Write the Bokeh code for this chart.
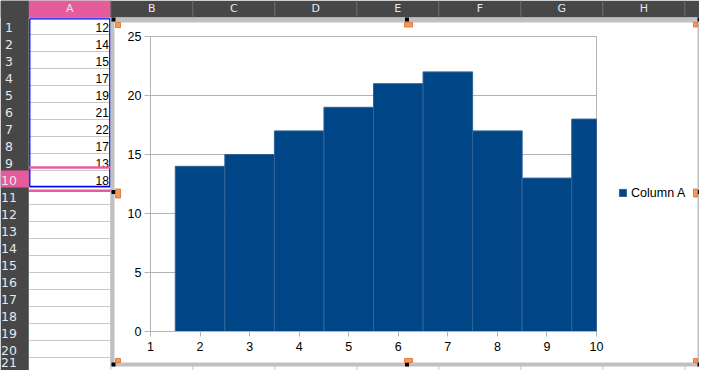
import numpy as np
from bokeh.plotting import figure
from bokeh.models import Range1d, LinearAxis, FixedTicker, Legend, LegendItem
from bokeh.core.properties import value
from bokeh.embed import file_html
from bokeh.resources import INLINE

# ---------------- data ----------------
cell_values = [12, 14, 15, 17, 19, 21, 22, 17, 13, 18]      # spreadsheet A1:A10
series_name = "Column A"
bar_x = [2, 3, 4, 5, 6, 7, 8, 9, 10]                          # chart categories shown
bar_values = [14, 15, 17, 19, 21, 22, 17, 13, 18]
x_ticks = [1, 2, 3, 4, 5, 6, 7, 8, 9, 10]
y_ticks = [0, 5, 10, 15, 20, 25]
col_letters = ["A", "B", "C", "D", "E", "F", "G", "H"]
row_numbers = list(range(1, 22))
selected_row = 10

# ---------------- layout (screen pixels of the sheet) ----------------
VIEW_L, VIEW_R, VIEW_T, VIEW_B = 0, 699, 0, 370
HEADER_B = 17
ROW_H = 17
ROWHDR_R = 28.3
COL_W = 82
CH_L, CH_R, CH_T, CH_B = 110, 701, 17, 366      # chart object outer border
BW = 4                                           # border width
PA_L, PA_R, PA_T, PA_B = 150, 596, 36, 331      # chart plot area

W, H = VIEW_R - VIEW_L, VIEW_B - VIEW_T

x_lo, x_hi = x_ticks[0], x_ticks[-1]
y_lo, y_hi = y_ticks[0], y_ticks[-1]
sx = (PA_R - PA_L) / (x_hi - x_lo)
sy = (PA_B - PA_T) / (y_hi - y_lo)

p = figure(width=W, height=H, output_backend="svg", toolbar_location=None,
           x_axis_type=None, y_axis_type=None,
           x_range=Range1d(VIEW_L, VIEW_R), y_range=Range1d(VIEW_B, VIEW_T),
           min_border=0, min_border_left=0, min_border_right=0,
           min_border_top=0, min_border_bottom=0)
p.outline_line_color = None
p.background_fill_color = "white"
p.border_fill_color = "white"
p.extra_x_ranges = {"cx": Range1d(x_lo - (PA_L - VIEW_L) / sx, x_hi + (VIEW_R - PA_R) / sx)}
p.extra_y_ranges = {"cy": Range1d(y_lo - (VIEW_B - PA_B) / sy, y_hi + (PA_T - VIEW_T) / sy)}

GRID_C = "#c8c8c8"
HDR_C = "#474747"
HDR_TXT = "#e4e8ec"
PINK = "#e45c9c"

# ---- cell grid ----
n_rows = len(row_numbers)
row_tops = [HEADER_B + ROW_H * i for i in range(n_rows)]
row_mids = [t + ROW_H / 2 for t in row_tops]
row_bots = [t + ROW_H for t in row_tops]
n_cols = len(col_letters) + 1
col_lefts = [ROWHDR_R + COL_W * i for i in range(n_cols)]
col_rights = [c + COL_W for c in col_lefts]
col_mids = [c + COL_W / 2 for c in col_lefts[:len(col_letters)]]

p.segment(x0=[ROWHDR_R] * n_rows, x1=[VIEW_R] * n_rows, y0=row_bots, y1=row_bots,
          line_color=GRID_C, line_width=1)
p.segment(x0=col_rights, x1=col_rights, y0=[HEADER_B] * len(col_rights), y1=[VIEW_B] * len(col_rights),
          line_color=GRID_C, line_width=1)

# cell values in column A
p.text(x=[col_rights[0] - 2] * len(cell_values), y=[m + 1.3 for m in row_mids[:len(cell_values)]],
       text=[str(v) for v in cell_values], text_align="right", text_baseline="middle",
       text_font=value("Liberation Sans"), text_font_size="12px", text_color="black")

# selection border around A1:A10
p.quad(left=[col_lefts[0] + 1], right=[col_rights[0] - 1], top=[HEADER_B + 1.3],
       bottom=[row_bots[len(cell_values) - 1] - 1], fill_color=None, line_color="#0000ee", line_width=1.3)
# pink cursor lines around row 10
si = selected_row - 1
p.segment(x0=[col_lefts[0]] * 2, x1=[col_rights[0]] * 2,
          y0=[row_tops[si] - 3, row_bots[si] + 3.3], y1=[row_tops[si] - 3, row_bots[si] + 3.3],
          line_color=PINK, line_width=2.6)

# row header
p.quad(left=[VIEW_L], right=[ROWHDR_R], top=[VIEW_T], bottom=[VIEW_B], fill_color=HDR_C, line_color=None)
p.quad(left=[VIEW_L], right=[ROWHDR_R], top=[row_tops[si]], bottom=[row_bots[si]], fill_color=PINK, line_color=None)
p.text(x=[8.5] * n_rows, y=[min(m + 1.5, VIEW_B - 8) for m in row_mids], text=[str(r) for r in row_numbers],
       text_align="center", text_baseline="middle",
       text_font=value("DejaVu Sans"), text_font_size="12.5px", text_color=HDR_TXT)

# column header
p.quad(left=[VIEW_L], right=[VIEW_R], top=[VIEW_T], bottom=[HEADER_B], fill_color=HDR_C, line_color=None)
p.quad(left=[col_lefts[0]], right=[col_rights[0]], top=[VIEW_T], bottom=[HEADER_B], fill_color=PINK, line_color=None)
p.segment(x0=col_rights, x1=col_rights, y0=[VIEW_T] * len(col_rights), y1=[HEADER_B] * len(col_rights),
          line_color="#6e6e6e", line_width=1)
p.text(x=col_mids, y=[7.8] * len(col_mids), text=col_letters, text_align="center", text_baseline="middle",
       text_font=value("DejaVu Sans"), text_font_size="11px", text_color=HDR_TXT)

# chart object frame
p.quad(left=[CH_L], right=[CH_R], top=[CH_T], bottom=[CH_B], fill_color="#c0c0c0", line_color=None)
p.quad(left=[CH_L + BW], right=[CH_R - BW], top=[CH_T + 5], bottom=[CH_B - BW], fill_color="white", line_color=None)

# ---- chart ----
WALL_C = "#b3b3b3"
p.segment(x0=[x_lo] * (len(y_ticks) - 2), x1=[x_hi] * (len(y_ticks) - 2), y0=y_ticks[1:-1], y1=y_ticks[1:-1],
          line_color=WALL_C, line_width=1, x_range_name="cx", y_range_name="cy")
p.quad(left=[x_lo], right=[x_hi], bottom=[y_lo], top=[y_hi], fill_color=None, line_color=WALL_C,
       line_width=1, x_range_name="cx", y_range_name="cy")

bx = np.array(bar_x, dtype=float)
b_left = np.clip(bx - 0.5, x_lo, x_hi)
b_right = np.clip(bx + 0.5, x_lo, x_hi)
bars = p.quad(left=b_left, right=b_right, bottom=[y_lo] * len(bar_values), top=bar_values,
              fill_color="#004586", line_color="#2f6399", line_width=1,
              x_range_name="cx", y_range_name="cy")

yaxis = LinearAxis(x_range_name="cx", y_range_name="cy", fixed_location=x_lo, bounds=(y_lo, y_hi),
                   ticker=FixedTicker(ticks=y_ticks))
xaxis = LinearAxis(x_range_name="cx", y_range_name="cy", fixed_location=y_lo, bounds=(x_lo, x_hi),
                   ticker=FixedTicker(ticks=x_ticks))
for ax, tick_out, standoff in ((yaxis, 6, 3), (xaxis, 5, 5)):
    ax.axis_line_color = WALL_C
    ax.major_tick_line_color = WALL_C
    ax.minor_tick_line_color = None
    ax.major_tick_in = 0
    ax.major_tick_out = tick_out
    ax.major_label_standoff = standoff
    ax.major_label_text_font = "Liberation Sans"
    ax.major_label_text_font_size = "12.5px"
    ax.major_label_text_color = "black"
p.add_layout(yaxis, "left")
p.add_layout(xaxis, "below")

legend = Legend(items=[LegendItem(label=series_name, renderers=[bars])],
                location=(618.1 - VIEW_L, VIEW_B - 192 - 7.5),
                glyph_width=9, glyph_height=9, label_standoff=4, label_height=9,
                padding=0, margin=0, spacing=0, border_line_color=None,
                background_fill_alpha=0, label_text_font="Liberation Sans",
                label_text_font_size="12.5px", label_text_color="black")
p.add_layout(legend)

# selection handles of the chart object
HB = 4
hx_black = [CH_L + 1, (CH_L + CH_R) / 2 - 1, CH_R - HB, CH_L + 1, CH_R - HB, CH_L + 1, (CH_L + CH_R) / 2 - 1, CH_R - HB]
hy_black = [CH_T, CH_T, CH_T, (CH_T + CH_B) / 2 - 2, (CH_T + CH_B) / 2 - 2, CH_B - HB, CH_B - HB, CH_B - HB]
p.quad(left=hx_black, right=[h + HB for h in hx_black], top=hy_black, bottom=[h + HB for h in hy_black],
       fill_color="black", line_color=None)
ox = [CH_L + 5, (CH_L + CH_R) / 2 - 1.5, CH_R - 8, CH_L + 5, CH_R - 8, CH_L + 5, (CH_L + CH_R) / 2 - 1.5, CH_R - 8]
ow = [5, 8, 4, 5, 4, 5, 8, 4]
oy = [CH_T + 5, CH_T + 5, CH_T + 5, (CH_T + CH_B) / 2 - 3, (CH_T + CH_B) / 2 - 3, CH_B - 8, CH_B - 8, CH_B - 8]
oh = [5, 4.5, 4.5, 9, 8, 4, 4, 4]
p.quad(left=ox, right=[a + b for a, b in zip(ox, ow)], top=oy, bottom=[a + b for a, b in zip(oy, oh)],
       fill_color="#f29a5c", line_color="#d96a2c", line_width=0.8)

open("out.html", "w").write(file_html(p, INLINE))
